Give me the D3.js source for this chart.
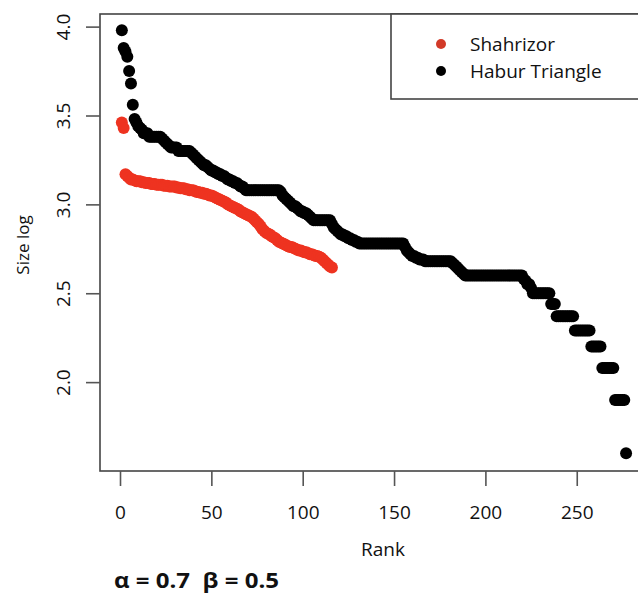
<!DOCTYPE html>
<html>
<head>
<meta charset="utf-8">
<script src="https://cdn.jsdelivr.net/npm/d3@7"></script>
<style>
  body { margin: 0; background: #fff; }
  text { font-family: "Open Sans", sans-serif; fill: #111; }
</style>
</head>
<body>
<div id="chart"></div>
<script>
// Shahrizor: log size by rank (rank = index + 1)
const shahrizor = [
  3.46, 3.43, 3.17, 3.16, 3.15, 3.14, 3.14, 3.135, 3.13, 3.13,
  3.13, 3.125, 3.125, 3.12, 3.12, 3.12, 3.115, 3.115, 3.115, 3.11,
  3.11, 3.11, 3.11, 3.105, 3.105, 3.105, 3.10, 3.10, 3.10, 3.10,
  3.095, 3.095, 3.09, 3.09, 3.09, 3.085, 3.085, 3.08, 3.08, 3.08,
  3.075, 3.07, 3.07, 3.065, 3.065, 3.06, 3.06, 3.055, 3.05, 3.05,
  3.045, 3.04, 3.035, 3.03, 3.025, 3.02, 3.015, 3.01, 3.00, 2.995,
  2.99, 2.985, 2.98, 2.975, 2.97, 2.96, 2.955, 2.95, 2.945, 2.94,
  2.935, 2.93, 2.92, 2.91, 2.90, 2.89, 2.875, 2.86, 2.85, 2.84,
  2.835, 2.83, 2.82, 2.815, 2.81, 2.80, 2.79, 2.785, 2.78, 2.775,
  2.77, 2.765, 2.76, 2.76, 2.755, 2.75, 2.745, 2.74, 2.74, 2.735,
  2.73, 2.73, 2.725, 2.72, 2.72, 2.715, 2.71, 2.71, 2.705, 2.70,
  2.69, 2.68, 2.67, 2.66, 2.65, 2.645
];

// Habur Triangle: log size levels and how many sites sit at each level, in rank order
const haburLevels = [
  3.98, 3.88, 3.86, 3.83, 3.75, 3.68, 3.56, 3.48, 3.46, 3.44, 3.43, 3.42,
  3.40, 3.38, 3.37, 3.36, 3.35, 3.34, 3.33, 3.32, 3.30, 3.29, 3.28, 3.27,
  3.26, 3.25, 3.24, 3.23, 3.22, 3.21, 3.20, 3.19, 3.18, 3.17, 3.16, 3.15,
  3.14, 3.13, 3.12, 3.11, 3.10, 3.09, 3.08, 3.07, 3.05, 3.04, 3.03, 3.02,
  3.01, 3.00, 2.99, 2.98, 2.97, 2.96, 2.95, 2.94, 2.93, 2.92, 2.91, 2.89,
  2.87, 2.86, 2.85, 2.84, 2.83, 2.82, 2.81, 2.80, 2.79, 2.78, 2.76, 2.74,
  2.73, 2.72, 2.71, 2.70, 2.69, 2.68, 2.67, 2.66, 2.65, 2.64, 2.63, 2.62,
  2.61, 2.60, 2.58, 2.57, 2.55, 2.53, 2.50, 2.44, 2.37, 2.29, 2.20, 2.08,
  1.90, 1.60
];
const haburCounts = [
  1, 1, 1, 1, 1, 1, 1, 1, 1, 1, 1, 1,
  3, 7, 1, 1, 1, 1, 1, 4, 7, 1, 1, 1,
  1, 1, 1, 1, 2, 1, 1, 2, 2, 2, 2, 1,
  2, 2, 2, 1, 2, 1, 19, 1, 1, 1, 1, 1,
  1, 1, 2, 1, 1, 2, 2, 1, 1, 1, 10, 1,
  1, 1, 1, 1, 2, 2, 2, 2, 2, 25, 1, 1,
  1, 1, 2, 2, 3, 15, 1, 1, 1, 1, 1, 1,
  1, 32, 1, 1, 2, 1, 10, 3, 10, 9, 6, 7,
  6, 1
];

const xTicks = [0, 50, 100, 150, 200, 250];
const yTicks = [2.0, 2.5, 3.0, 3.5, 4.0];
const seriesNames = ["Shahrizor", "Habur Triangle"];
const seriesColors = ["#ee3320", "#000000"];

const fullWidth = 638;
const fullHeight = 594;
const plot = { left: 100, top: 14, right: 648, bottom: 471 };

const svg = d3
  .select("#chart")
  .append("svg")
  .attr("width", fullWidth)
  .attr("height", fullHeight);

svg.append("rect").attr("width", fullWidth).attr("height", fullHeight).attr("fill", "#fff");

const xScale = d3.scaleLinear().domain([-10.95, 289]).range([plot.left, plot.right]);
const yScale = d3.scaleLinear().domain([1.5, 4.071]).range([plot.bottom, plot.top]);

// expand runs into ranked points
const habur = [];
haburLevels.forEach((v, i) => {
  for (let k = 0; k < haburCounts[i]; k++) habur.push(v);
});

const toPoints = values => values.map((v, i) => ({ rank: i + 1, value: v }));

svg
  .append("g")
  .selectAll("circle")
  .data(toPoints(habur))
  .join("circle")
  .attr("cx", d => xScale(d.rank))
  .attr("cy", d => yScale(d.value))
  .attr("r", 6)
  .attr("fill", seriesColors[1]);

svg
  .append("g")
  .selectAll("circle")
  .data(toPoints(shahrizor))
  .join("circle")
  .attr("cx", d => xScale(d.rank))
  .attr("cy", d => yScale(d.value))
  .attr("r", 6)
  .attr("fill", seriesColors[0]);

// frame
svg
  .append("rect")
  .attr("x", plot.left)
  .attr("y", plot.top)
  .attr("width", plot.right - plot.left)
  .attr("height", plot.bottom - plot.top)
  .attr("fill", "none")
  .attr("stroke", "#444")
  .attr("stroke-width", 1.6);

// x axis
const xAxis = d3.axisBottom(xScale).tickValues(xTicks).tickSize(15).tickPadding(20);
const gx = svg.append("g").attr("transform", `translate(0, ${plot.bottom})`).call(xAxis);
gx.select(".domain").remove();
gx.selectAll(".tick line").attr("stroke", "#555").attr("stroke-width", 1.6);
gx.selectAll(".tick text").style("font-size", "19px").attr("fill", "#111");

// y axis
const yAxis = d3.axisLeft(yScale).tickValues(yTicks).tickSize(14).tickFormat(d3.format(".1f"));
const gy = svg.append("g").attr("transform", `translate(${plot.left}, 0)`).call(yAxis);
gy.select(".domain").remove();
gy.selectAll(".tick line").attr("stroke", "#555").attr("stroke-width", 1.6);
gy.selectAll(".tick text")
  .attr("x", 0)
  .attr("y", -30)
  .attr("dy", 0)
  .attr("transform", "rotate(-90)")
  .attr("text-anchor", "middle")
  .style("font-size", "19px")
  .attr("fill", "#111");

// axis titles
svg
  .append("text")
  .attr("x", 383)
  .attr("y", 556)
  .attr("text-anchor", "middle")
  .style("font-size", "19px")
  .text("Rank");

svg
  .append("text")
  .attr("transform", "translate(29, 245) rotate(-90)")
  .attr("text-anchor", "middle")
  .style("font-size", "17px")
  .text("Size log");

svg
  .append("text")
  .attr("x", 114)
  .attr("y", 588)
  .style("font-size", "21px")
  .style("font-weight", "bold")
  .style("white-space", "pre")
  .attr("textLength", 165)
  .attr("lengthAdjust", "spacingAndGlyphs")
  .text("α = 0.7  β = 0.5");

// legend
const legend = svg.append("g");
legend
  .append("rect")
  .attr("x", 391)
  .attr("y", plot.top)
  .attr("width", 300)
  .attr("height", 85)
  .attr("fill", "#fff")
  .attr("stroke", "#444")
  .attr("stroke-width", 1.6);

const legendY = [44, 71];
seriesNames.forEach((name, i) => {
  legend
    .append("circle")
    .attr("cx", 441)
    .attr("cy", legendY[i])
    .attr("r", 5)
    .attr("fill", i === 0 ? "#d23a28" : seriesColors[1]);
  legend
    .append("text")
    .attr("x", 470)
    .attr("y", legendY[i] + 7)
    .style("font-size", "19px")
    .text(name);
});
</script>
</body>
</html>
